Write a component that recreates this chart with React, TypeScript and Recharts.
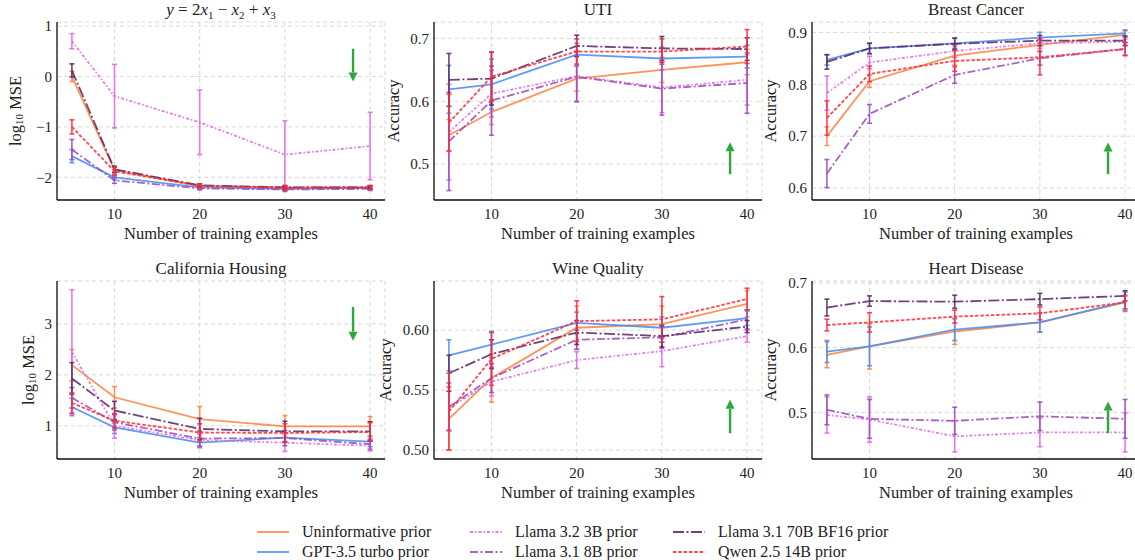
import React from "react";
import { LineChart, Line, XAxis, YAxis, CartesianGrid, ErrorBar, ReferenceLine } from "recharts";

const trainSizes = [5, 10, 20, 30, 40];
const xTicks = [10, 20, 30, 40];

const seriesNames = [
    "Uninformative prior",
    "GPT-3.5 turbo prior",
    "Llama 3.2 3B prior",
    "Llama 3.1 8B prior",
    "Llama 3.1 70B BF16 prior",
    "Qwen 2.5 14B prior",
];
const seriesColors = ["#ff8442", "#4a8ef2", "#e46ae4", "#9b4dbd", "#5a2a6a", "#ff2c3c"];
const seriesDash: (string | undefined)[] = [undefined, undefined, "3 2 1.5 2", "8 2.5 2 2.5", "11 2.5 2 2.5", "3.5 1.8"];

// y = 2x1 - x2 + x3  (log10 MSE)
const synthMean = [
    [0.0, -1.86, -2.17, -2.2, -2.2],
    [-1.58, -2.0, -2.2, -2.23, -2.21],
    [0.7, -0.39, -0.91, -1.55, -1.38],
    [-1.45, -2.06, -2.22, -2.24, -2.23],
    [0.12, -1.84, -2.16, -2.2, -2.2],
    [-1.0, -1.88, -2.17, -2.21, -2.2],
];
const synthErr = [
    [0.1, 0.06, 0.03, 0.03, 0.03],
    [0.13, 0.05, 0.03, 0.03, 0.03],
    [0.15, 0.63, 0.64, 0.67, 0.67],
    [0.2, 0.06, 0.03, 0.04, 0.03],
    [0.13, 0.06, 0.03, 0.03, 0.03],
    [0.14, 0.08, 0.04, 0.05, 0.04],
];

// UTI (accuracy)
const utiMean = [
    [0.546, 0.583, 0.636, 0.65, 0.662],
    [0.619, 0.627, 0.674, 0.668, 0.671],
    [0.551, 0.612, 0.64, 0.622, 0.634],
    [0.536, 0.601, 0.639, 0.62, 0.629],
    [0.634, 0.636, 0.688, 0.684, 0.683],
    [0.566, 0.639, 0.679, 0.679, 0.687],
];
const utiErr = [
    [0.025, 0.02, 0.02, 0.02, 0.02],
    [0.038, 0.04, 0.018, 0.018, 0.018],
    [0.076, 0.037, 0.04, 0.04, 0.04],
    [0.078, 0.055, 0.04, 0.042, 0.048],
    [0.042, 0.042, 0.017, 0.019, 0.018],
    [0.045, 0.039, 0.02, 0.02, 0.027],
];

// Breast Cancer (accuracy)
const breastMean = [
    [0.7, 0.806, 0.855, 0.876, 0.895],
    [0.847, 0.869, 0.879, 0.89, 0.898],
    [0.783, 0.842, 0.864, 0.879, 0.882],
    [0.628, 0.743, 0.818, 0.85, 0.868],
    [0.843, 0.869, 0.878, 0.884, 0.884],
    [0.735, 0.82, 0.845, 0.852, 0.868],
];
const breastErr = [
    [0.018, 0.012, 0.018, 0.012, 0.008],
    [0.01, 0.01, 0.01, 0.01, 0.007],
    [0.033, 0.012, 0.012, 0.01, 0.008],
    [0.027, 0.018, 0.016, 0.013, 0.012],
    [0.014, 0.01, 0.011, 0.01, 0.009],
    [0.033, 0.015, 0.02, 0.034, 0.013],
];

// California Housing (log10 MSE)
const housingMean = [
    [2.19, 1.56, 1.13, 0.99, 0.99],
    [1.37, 0.97, 0.67, 0.77, 0.69],
    [2.45, 1.0, 0.72, 0.67, 0.61],
    [1.55, 1.07, 0.75, 0.76, 0.64],
    [1.93, 1.3, 0.94, 0.89, 0.89],
    [1.45, 1.1, 0.87, 0.86, 0.88],
];
const housingErr = [
    [0.31, 0.21, 0.25, 0.21, 0.19],
    [0.17, 0.12, 0.1, 0.1, 0.1],
    [1.22, 0.24, 0.12, 0.17, 0.1],
    [0.2, 0.15, 0.15, 0.15, 0.1],
    [0.31, 0.18, 0.21, 0.2, 0.19],
    [0.2, 0.14, 0.17, 0.18, 0.18],
];

// Wine Quality (accuracy)
const wineMean = [
    [0.526, 0.56, 0.602, 0.605, 0.622],
    [0.579, 0.588, 0.606, 0.602, 0.61],
    [0.535, 0.557, 0.575, 0.5825, 0.595],
    [0.536, 0.56, 0.592, 0.594, 0.609],
    [0.564, 0.58, 0.598, 0.595, 0.603],
    [0.532, 0.576, 0.6075, 0.609, 0.626],
];
const wineErr = [
    [0.026, 0.02, 0.018, 0.015, 0.011],
    [0.013, 0.011, 0.009, 0.009, 0.006],
    [0.018, 0.012, 0.007, 0.013, 0.005],
    [0.02, 0.012, 0.008, 0.009, 0.008],
    [0.015, 0.012, 0.01, 0.009, 0.005],
    [0.032, 0.022, 0.017, 0.019, 0.009],
];

// Heart Disease (accuracy)
const heartMean = [
    [0.589, 0.602, 0.625, 0.639, 0.67],
    [0.594, 0.602, 0.628, 0.639, 0.671],
    [0.496, 0.489, 0.463, 0.469, 0.469],
    [0.504, 0.49, 0.487, 0.494, 0.49],
    [0.662, 0.672, 0.671, 0.675, 0.68],
    [0.635, 0.639, 0.648, 0.653, 0.67],
];
const heartErr = [
    [0.02, 0.035, 0.02, 0.015, 0.012],
    [0.017, 0.03, 0.017, 0.015, 0.015],
    [0.028, 0.035, 0.024, 0.022, 0.03],
    [0.023, 0.03, 0.021, 0.022, 0.03],
    [0.013, 0.008, 0.01, 0.009, 0.008],
    [0.009, 0.015, 0.01, 0.01, 0.01],
];

const FONT = "'Liberation Serif', 'Times New Roman', serif";
const TEXT = "#222";
const ARROW = "#2ea83c";

const minusFmt = (v: number) => (v < 0 ? "\u2212" + Math.abs(v) : String(v));

const buildRows = (mean: number[][], err: number[][]) =>
    trainSizes.map((x, i) => {
        const row: { [key: string]: number } = { x };
        mean.forEach((m, s) => {
            row["s" + s] = m[i];
            row["e" + s] = err[s][i];
        });
        return row;
    });

const mseTitle = (
    <span>
        <i>y</i> = 2<i>x</i>
        <sub style={{ fontSize: 11 }}>1</sub> − <i>x</i>
        <sub style={{ fontSize: 11 }}>2</sub> + <i>x</i>
        <sub style={{ fontSize: 11 }}>3</sub>
    </span>
);

const panels = [
    { title: mseTitle, mean: synthMean, err: synthErr, left: 0, top: 0, yDomain: [-2.45, 1.08], yTicks: [-2, -1, 0, 1], fmt: minusFmt, mse: true, labelGap: 42, arrow: [0.55, -0.1] },
    { title: "UTI", mean: utiMean, err: utiErr, left: 377, top: 0, yDomain: [0.443, 0.726], yTicks: [0.5, 0.6, 0.7], fmt: (v: number) => v.toFixed(1), mse: false, labelGap: 41, arrow: [0.484, 0.535] },
    { title: "Breast Cancer", mean: breastMean, err: breastErr, left: 755, top: 0, yDomain: [0.577, 0.92], yTicks: [0.6, 0.7, 0.8, 0.9], fmt: (v: number) => v.toFixed(1), mse: false, labelGap: 42, arrow: [0.627, 0.688] },
    { title: "California Housing", mean: housingMean, err: housingErr, left: 0, top: 259, yDomain: [0.35, 3.84], yTicks: [1, 2, 3], fmt: (v: number) => String(v), mse: true, labelGap: 29, arrow: [3.33, 2.67] },
    { title: "Wine Quality", mean: wineMean, err: wineErr, left: 377, top: 259, yDomain: [0.4925, 0.641], yTicks: [0.5, 0.55, 0.6], fmt: (v: number) => v.toFixed(2), mse: false, labelGap: 49, arrow: [0.514, 0.542] },
    { title: "Heart Disease", mean: heartMean, err: heartErr, left: 755, top: 259, yDomain: [0.428, 0.703], yTicks: [0.5, 0.6, 0.7], fmt: (v: number) => v.toFixed(1), mse: false, labelGap: 42, arrow: [0.468, 0.517] },
];

const Arrow = (props: any) => {
    const { x1, y1, x2, y2 } = props;
    const dir = y2 > y1 ? 1 : -1;
    const headLen = 9;
    const headW = 4.5;
    const by = y2 - dir * headLen;
    return (
        <g>
            <line x1={x1} y1={y1} x2={x2} y2={by} stroke={ARROW} strokeWidth={2.4} />
            <polygon points={`${x2 - headW},${by} ${x2 + headW},${by} ${x2},${y2}`} fill={ARROW} />
        </g>
    );
};

const YLabel = (mse: boolean, gap: number) => (props: any) => {
    const vb = props.viewBox;
    const cx = vb.x + vb.width - gap;
    const cy = vb.y + vb.height / 2;
    return (
        <text
            x={cx}
            y={cy}
            transform={`rotate(-90 ${cx} ${cy})`}
            textAnchor="middle"
            dominantBaseline="central"
            fontFamily={FONT}
            fontSize={16.5}
            fill={TEXT}
        >
            {mse ? (
                <>
                    <tspan>log</tspan>
                    <tspan dy={4} fontSize={11}>10</tspan>
                    <tspan dy={-4}> MSE</tspan>
                </>
            ) : (
                "Accuracy"
            )}
        </text>
    );
};

const XLabel = (props: any) => {
    const vb = props.viewBox;
    return (
        <text x={vb.x + vb.width / 2} y={vb.y + 39} textAnchor="middle" fontFamily={FONT} fontSize={16.5} fill={TEXT}>
            Number of training examples
        </text>
    );
};

const Panel = ({ p }: { p: (typeof panels)[number] }) => {
    const data = buildRows(p.mean, p.err);
    return (
        <div style={{ position: "absolute", left: p.left, top: p.top }}>
            <div
                style={{
                    position: "absolute",
                    left: 57,
                    width: 328,
                    top: 1,
                    lineHeight: "18px",
                    textAlign: "center",
                    fontFamily: FONT,
                    fontSize: 17,
                    color: TEXT,
                    whiteSpace: "nowrap",
                }}
            >
                {p.title}
            </div>
            <LineChart width={387} height={252} data={data} margin={{ top: 22, right: 2, bottom: 12, left: 0 }}>
                <CartesianGrid stroke="#d4d4d4" strokeDasharray="4 3" strokeWidth={0.9} />
                <XAxis
                    type="number"
                    dataKey="x"
                    domain={[3.25, 41.75]}
                    ticks={xTicks}
                    allowDataOverflow
                    interval={0}
                    tickLine={false}
                    tickSize={6}
                    tickMargin={2}
                    height={40}
                    axisLine={{ stroke: "#111", strokeWidth: 1.3 }}
                    tick={{ fontSize: 15, fontFamily: FONT, fill: TEXT }}
                    label={{ content: XLabel }}
                />
                <YAxis
                    type="number"
                    domain={p.yDomain}
                    ticks={p.yTicks}
                    allowDataOverflow
                    interval={0}
                    tickFormatter={p.fmt}
                    width={57}
                    tickLine={false}
                    tickSize={4}
                    tickMargin={1}
                    axisLine={{ stroke: "#111", strokeWidth: 1.3 }}
                    tick={{ fontSize: 15, fontFamily: FONT, fill: TEXT }}
                    label={{ content: YLabel(p.mse, p.labelGap) }}
                />
                {seriesNames.map((n, s) => (
                    <Line
                        key={n}
                        name={n}
                        type="linear"
                        dataKey={"s" + s}
                        stroke={seriesColors[s]}
                        strokeWidth={1.8}
                        strokeOpacity={0.88}
                        strokeDasharray={seriesDash[s]}
                        dot={false}
                        activeDot={false}
                        isAnimationActive={false}
                    >
                        <ErrorBar
                            dataKey={"e" + s}
                            direction="y"
                            width={2.5}
                            stroke={seriesColors[s]}
                            strokeWidth={1.6}
                            strokeOpacity={0.88}
                            isAnimationActive={false}
                        />
                    </Line>
                ))}
                <ReferenceLine
                    segment={[
                        { x: 38, y: p.arrow[0] },
                        { x: 38, y: p.arrow[1] },
                    ]}
                    shape={Arrow}
                    ifOverflow="visible"
                />
            </LineChart>
        </div>
    );
};

const legendCols = [257, 470, 673];

const Legend = () => (
    <>
        {seriesNames.map((n, s) => {
            const col = Math.floor(s / 2);
            const row = s % 2;
            return (
                <div
                    key={n}
                    style={{
                        position: "absolute",
                        left: legendCols[col],
                        top: 523 + row * 20,
                        height: 18,
                        display: "flex",
                        alignItems: "center",
                        fontFamily: FONT,
                        fontSize: 16,
                        color: TEXT,
                        whiteSpace: "nowrap",
                    }}
                >
                    <svg width={32} height={6} style={{ marginRight: 13 }}>
                        <line
                            x1={0}
                            y1={3}
                            x2={32}
                            y2={3}
                            stroke={seriesColors[s]}
                            strokeWidth={1.8}
                            strokeOpacity={0.88}
                            strokeDasharray={seriesDash[s]}
                        />
                    </svg>
                    <span>{n}</span>
                </div>
            );
        })}
    </>
);

export default function App() {
    return (
        <div
            style={{
                position: "absolute",
                left: 0,
                top: 0,
                width: 1135,
                height: 560,
                overflow: "hidden",
                background: "#fff",
            }}
        >
            {panels.map((p, i) => (
                <Panel key={i} p={p} />
            ))}
            <Legend />
        </div>
    );
}
